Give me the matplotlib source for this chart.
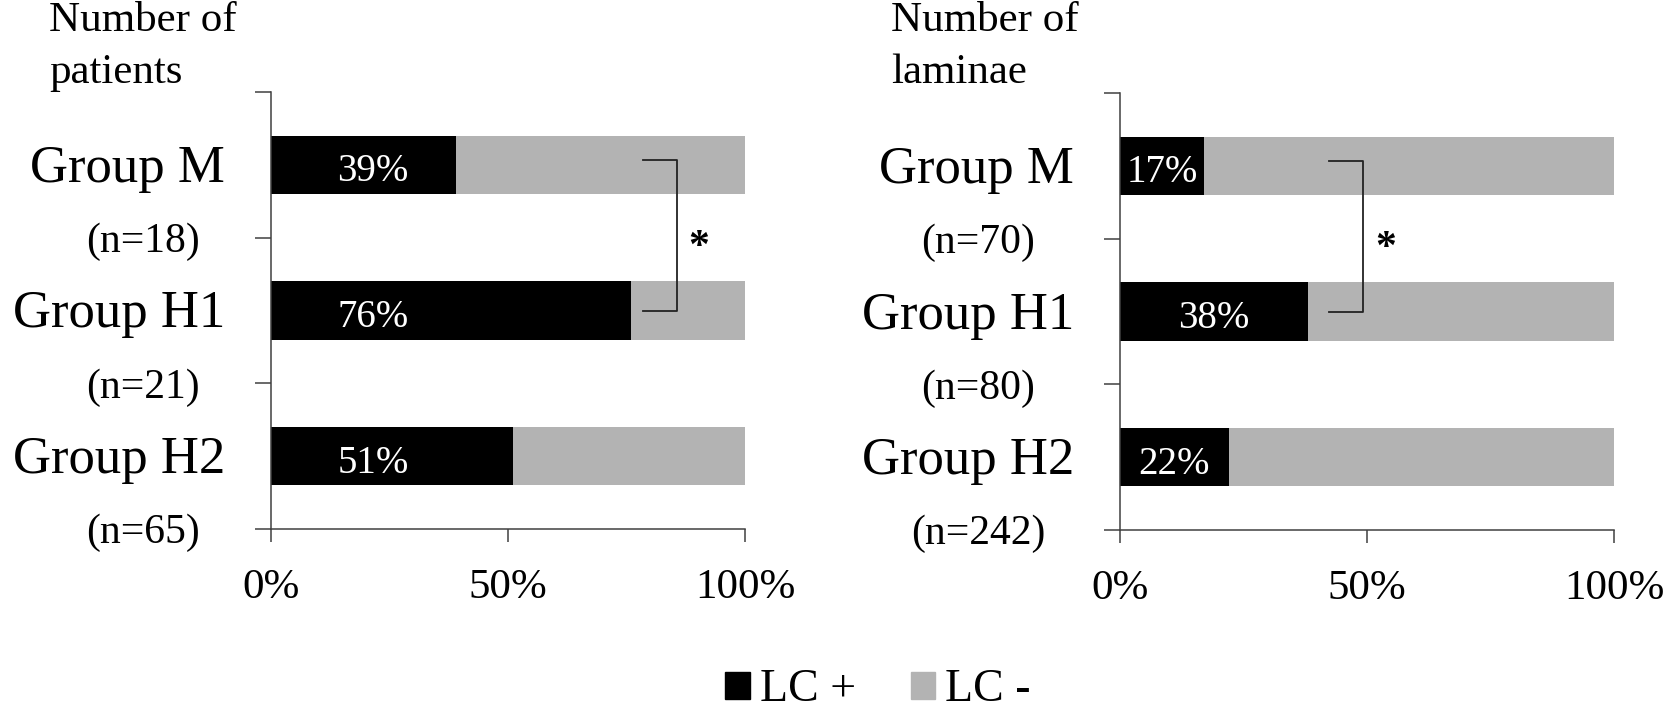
"""LC+ / LC- stacked bars for patients and laminae"""

import matplotlib
matplotlib.use("Agg")
import matplotlib.pyplot as plt
import matplotlib.transforms as mtransforms
from matplotlib.patches import Patch

plt.rcParams["font.family"] = ["Liberation Serif", "DejaVu Serif"]

# Data
groups = ["Group M", "Group H1", "Group H2"]
patients_n = [18, 21, 65]
patients_lc_pos = [39, 76, 51]
laminae_n = [70, 80, 242]
laminae_lc_pos = [17, 38, 22]

BLACK = "#000000"
GRAY = "#b3b3b3"
AXIS = "#404040"

fig = plt.figure(figsize=(16.81, 7.13), dpi=100)
ax1 = fig.add_axes([271 / 1681, 1 - 529 / 713, 474 / 1681, 437 / 713])
ax2 = fig.add_axes([1120 / 1681, 1 - 530 / 713, 494 / 1681, 437 / 713])


def draw_panel(ax, n_values, lc_pos, title, title_x, label_x, n_off, bracket, star_x):
    y = list(range(len(groups)))
    lc_neg = [100 - v for v in lc_pos]
    ax.barh(y, lc_pos, height=0.4, color=BLACK)
    ax.barh(y, lc_neg, left=lc_pos, height=0.4, color=GRAY)

    # value labels
    tr_v = mtransforms.offset_copy(ax.transData, fig=fig, x=0, y=-7, units="dots")
    for i, v in enumerate(lc_pos):
        x = v / 2 if label_x is None else label_x
        ax.text(x, i, f"{v}%", color="white", fontsize=28,
                ha="center", va="center", transform=tr_v)

    ax.set_xlim(0, 100)
    ax.set_ylim(2.5, -0.5)
    ax.set_xticks([0, 50, 100])
    ax.set_xticklabels(["0%", "50%", "100%"], fontsize=31)
    ax.set_yticks([-0.5, 0.5, 1.5, 2.5])
    ax.set_yticklabels([])
    ax.tick_params(axis="y", length=11.5, width=1.1, color=AXIS)
    ax.tick_params(axis="x", length=9.6, width=1.1, color=AXIS, pad=19)
    for s in ["top", "right"]:
        ax.spines[s].set_visible(False)
    for s in ["left", "bottom"]:
        ax.spines[s].set_color(AXIS)
        ax.spines[s].set_linewidth(1.1)

    # category labels
    tr_g = mtransforms.offset_copy(ax.get_yaxis_transform(), fig=fig,
                                   x=-46, y=-4, units="dots")
    tr_n = mtransforms.offset_copy(ax.get_yaxis_transform(), fig=fig,
                                   x=-n_off, y=-4, units="dots")
    for i, (g, n) in enumerate(zip(groups, n_values)):
        ax.text(0, i, g, transform=tr_g, fontsize=38, ha="right", va="center")
        ax.text(0, i + 0.5, f"(n={n})", transform=tr_n, fontsize=30,
                ha="center", va="center")

    # significance bracket
    x0, x1 = bracket
    ax.plot([x0, x1, x1, x0], [-0.03, -0.03, 1.0, 1.0], color="#222222",
            lw=1.3, clip_on=False)
    ax.text(star_x, 0.57, "*", fontsize=30, fontweight="bold",
            ha="center", va="center")

    fig.text(title_x / 1681, 0.998, title, fontsize=31, ha="left", va="top",
             linespacing=1.45)


draw_panel(ax1, patients_n, patients_lc_pos, "Number of\npatients", 49,
           21.5, 128, (78.5, 85.7), 90.3)
draw_panel(ax2, laminae_n, laminae_lc_pos, "Number of\nlaminae", 891,
           None, 142, (42.3, 49.2), 53.8)

handles = [Patch(color=BLACK, label="LC +"), Patch(color=GRAY, label="LC -")]
fig.legend(handles=handles, loc="center", bbox_to_anchor=(878 / 1681, 0.032),
           ncol=2, frameon=False, fontsize=33, handlelength=0.53,
           handleheight=0.53, handletextpad=0.22, columnspacing=1.2,
           borderpad=0.1)

fig.savefig("out.png", dpi=100)
